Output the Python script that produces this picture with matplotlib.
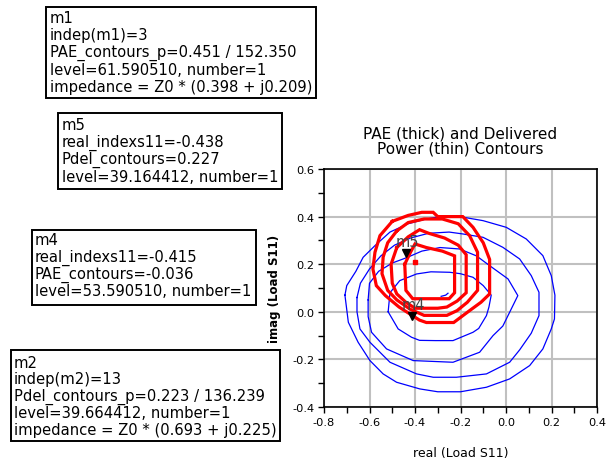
import matplotlib
matplotlib.use("Agg")
import matplotlib.pyplot as plt
from matplotlib.patches import Rectangle
from matplotlib.ticker import MultipleLocator
from matplotlib.transforms import offset_copy

plt.rcParams['font.family'] = ['DejaVu Sans']

W, H = 609, 464

# === Delivered power contours (thin, blue), outer to inner ===
pdel_1_re = [-0.708, -0.70, -0.66, -0.628, -0.576, -0.51, -0.43, -0.35, -0.29, -0.204, -0.101, 0.001,
             0.089, 0.162, 0.199, 0.215, 0.213, 0.199, 0.162, 0.104, 0.016, -0.086, -0.20, -0.30,
             -0.379, -0.481, -0.54, -0.598, -0.65, -0.693, -0.708]
pdel_1_im = [0.07, 0.11, 0.17, 0.229, 0.278, 0.335, 0.37, 0.39, 0.40, 0.40, 0.383, 0.355,
             0.306, 0.236, 0.152, 0.07, -0.03, -0.072, -0.156, -0.226, -0.282, -0.317, -0.336, -0.336,
             -0.324, -0.296, -0.261, -0.205, -0.128, -0.044, 0.07]

pdel_2_re = [-0.655, -0.64, -0.60, -0.55, -0.49, -0.42, -0.34, -0.25, -0.189, -0.101, -0.014, 0.06,
             0.111, 0.145, 0.145, 0.111, 0.06, 0.016, -0.086, -0.218, -0.32, -0.393, -0.51, -0.598,
             -0.642, -0.655, -0.655]
pdel_2_im = [0.06, 0.12, 0.18, 0.235, 0.28, 0.31, 0.33, 0.335, 0.327, 0.313, 0.271, 0.222,
             0.152, 0.082, -0.016, -0.09, -0.16, -0.212, -0.261, -0.275, -0.275, -0.261, -0.212, -0.128,
             -0.072, 0.0, 0.06]

pdel_3_re = [-0.606, -0.60, -0.56, -0.50, -0.438, -0.37, -0.29, -0.204, -0.13, -0.072, 0.009, 0.052,
             0.016, -0.014, -0.057, -0.116, -0.233, -0.408, -0.525, -0.591, -0.606, -0.606]
pdel_3_im = [0.05, 0.12, 0.17, 0.205, 0.227, 0.255, 0.27, 0.264, 0.235, 0.194, 0.138, 0.068,
             -0.002, -0.06, -0.10, -0.17, -0.212, -0.205, -0.156, -0.086, -0.02, 0.05]

pdel_4_re = [-0.518, -0.51, -0.467, -0.393, -0.33, -0.247, -0.20, -0.145, -0.10, -0.065, -0.075,
             -0.086, -0.12, -0.145, -0.233, -0.31, -0.38, -0.415, -0.474, -0.518]
pdel_4_im = [0.0, 0.08, 0.131, 0.159, 0.168, 0.166, 0.16, 0.145, 0.11, 0.07, 0.02,
             -0.016, -0.07, -0.086, -0.121, -0.121, -0.12, -0.107, -0.072, 0.0]

pdel_5_re = [-0.285, -0.265, -0.255]
pdel_5_im = [0.065, 0.07, 0.078]

# === PAE contours (thick, red), outer to inner ===
pae_1_re = [-0.50, -0.43, -0.37, -0.32, -0.30, -0.19, -0.145, -0.10, -0.072, -0.072, -0.11, -0.16,
            -0.23, -0.35, -0.38, -0.47, -0.53, -0.57, -0.585, -0.576, -0.554, -0.50]
pae_1_im = [0.38, 0.405, 0.418, 0.418, 0.40, 0.40, 0.355, 0.29, 0.22, 0.075, 0.04, 0.005,
            -0.045, -0.045, -0.035, 0.02, 0.068, 0.11, 0.18, 0.25, 0.32, 0.38]

pae_2_re = [-0.48, -0.43, -0.36, -0.28, -0.21, -0.16, -0.125, -0.125, -0.17, -0.215, -0.26, -0.36,
            -0.42, -0.48, -0.52, -0.545, -0.54, -0.52, -0.48]
pae_2_im = [0.34, 0.375, 0.39, 0.39, 0.37, 0.32, 0.25, 0.09, 0.04, 0.005, -0.015, -0.015,
            0.01, 0.05, 0.09, 0.16, 0.23, 0.29, 0.34]

pae_3_re = [-0.48, -0.43, -0.38, -0.34, -0.27, -0.21, -0.175, -0.175, -0.215, -0.26, -0.30, -0.40,
            -0.44, -0.48, -0.50, -0.505, -0.48]
pae_3_im = [0.27, 0.315, 0.345, 0.33, 0.31, 0.28, 0.24, 0.08, 0.045, 0.02, 0.015, 0.015,
            0.04, 0.075, 0.12, 0.20, 0.27]

pae_4_re = [-0.445, -0.42, -0.40, -0.35, -0.28, -0.226, -0.226, -0.25, -0.30, -0.41, -0.44, -0.445]
pae_4_im = [0.20, 0.25, 0.285, 0.27, 0.255, 0.235, 0.08, 0.055, 0.055, 0.055, 0.09, 0.20]

# markers
m1_re, m1_im = -0.399, 0.209
m5_re, m5_im = -0.438, 0.227
m4_re, m4_im = -0.415, -0.036

m1_lines = ["m1", "indep(m1)=3", "PAE_contours_p=0.451 / 152.350",
            "level=61.590510, number=1", "impedance = Z0 * (0.398 + j0.209)"]
m5_lines = ["m5", "real_indexs11=-0.438", "Pdel_contours=0.227", "level=39.164412, number=1"]
m4_lines = ["m4", "real_indexs11=-0.415", "PAE_contours=-0.036", "level=53.590510, number=1"]
m2_lines = ["m2", "indep(m2)=13", "Pdel_contours_p=0.223 / 136.239",
            "level=39.664412, number=1", "impedance = Z0 * (0.693 + j0.225)"]

fig = plt.figure(figsize=(W / 100, H / 100), dpi=100)
ax = fig.add_axes([324 / W, 56 / H, 273 / W, 238 / H])

for re, im in [(pdel_1_re, pdel_1_im), (pdel_2_re, pdel_2_im), (pdel_3_re, pdel_3_im),
               (pdel_4_re, pdel_4_im), (pdel_5_re, pdel_5_im)]:
    ax.plot(re, im, color='#0000ff', lw=0.9, zorder=3)

for re, im in [(pae_1_re, pae_1_im), (pae_2_re, pae_2_im), (pae_3_re, pae_3_im), (pae_4_re, pae_4_im)]:
    ax.plot(re, im, color='#ff0000', lw=2.3, zorder=4, solid_joinstyle='miter')

ax.plot([m1_re], [m1_im], 's', color='#ff0000', ms=3, zorder=5)

# triangles sit above the marker point, tip on the curve
tri = offset_copy(ax.transData, fig=fig, y=3.5, units='points')
for name, re, im in [("m5", m5_re, m5_im), ("m4", m4_re, m4_im)]:
    ax.plot([re], [im], 'v', color='black', ms=6, transform=tri, zorder=6)
    ax.annotate(name, (re, im), xytext=(1, 11.5), textcoords='offset points',
                ha='center', va='center', fontsize=10.5, color='#444444', zorder=6)

ax.set_xlim(-0.8, 0.4)
ax.set_ylim(-0.4, 0.6)
ax.xaxis.set_major_locator(MultipleLocator(0.2))
ax.xaxis.set_minor_locator(MultipleLocator(0.1))
ax.yaxis.set_major_locator(MultipleLocator(0.2))
ax.yaxis.set_minor_locator(MultipleLocator(0.1))
ax.set_xticklabels([f"{v:.1f}" for v in ax.get_xticks()])
ax.set_yticklabels([f"{v:.1f}" for v in ax.get_yticks()])
ax.tick_params(which='both', direction='out', length=4, width=1, colors='black', labelsize=8.2, pad=3)
ax.grid(True, which='major', color='#c0c0c0', lw=1.5, zorder=0)
ax.set_axisbelow(True)
for sp in ax.spines.values():
    sp.set_linewidth(1.2)
    sp.set_color('black')

ax.set_xlabel("real (Load S11)", fontsize=9, labelpad=14)
ax.set_ylabel("imag (Load S11)", fontsize=8.5, fontweight='bold', labelpad=8)
ax.set_title("PAE (thick) and Delivered\nPower (thin) Contours", fontsize=11, pad=12, linespacing=1.0)


def marker_box(left, top, right, bottom, lines, first, step, pad):
    fig.add_artist(Rectangle((left / W, 1 - bottom / H), (right - left) / W, (bottom - top) / H,
                             transform=fig.transFigure, fill=False, lw=1.4, ec='black'))
    for i, s in enumerate(lines):
        fig.text((left + pad) / W, 1 - (top + first + i * step) / H, s,
                 ha='left', va='center', fontsize=10.6, color='black')


marker_box(46, 8, 316, 99, m1_lines, 10.5, 17.3, 3.5)
marker_box(58, 114, 282, 190, m5_lines, 12, 17.1, 3.5)
marker_box(32, 231, 256, 306, m4_lines, 10, 17.0, 3)
marker_box(11, 351, 280, 442, m2_lines, 12, 16.9, 2.5)

fig.savefig("out.png", dpi=100)
